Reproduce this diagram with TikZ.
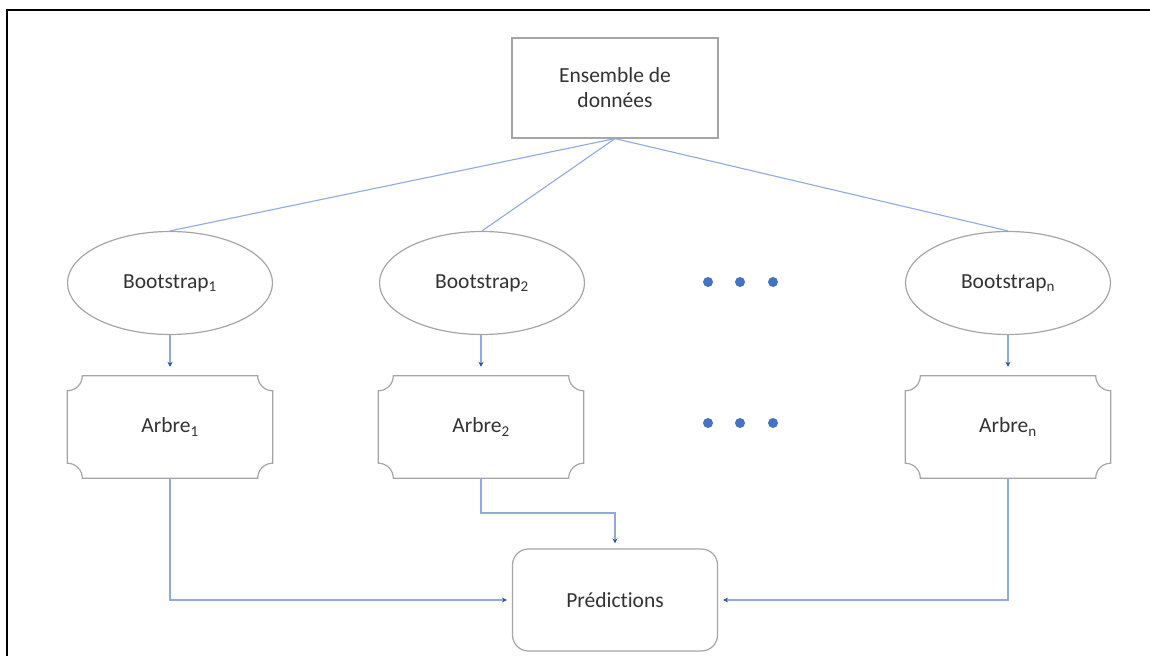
\documentclass[tikz,border=0pt]{standalone}
\usepackage{fontspec}
\setmainfont{Carlito}[Ligatures={NoCommon,NoContextual,NoRequired}]
\usetikzlibrary{shapes.geometric,arrows.meta}
\definecolor{boxgray}{RGB}{165,165,165}
\definecolor{linkblue}{RGB}{143,170,220}
\definecolor{tipblue}{RGB}{47,85,151}
\definecolor{dotblue}{RGB}{68,114,196}
\definecolor{txt}{RGB}{50,50,50}
\tikzset{
  x=1pt, y=1pt,
  every node/.style={font=\fontsize{21.5}{25}\selectfont, text=txt, align=center},
  boxline/.style={draw=boxgray, line width=1.2pt},
  databox/.style={boxline, rectangle, minimum width=206pt, minimum height=100pt},
  bootshape/.style={boxline, ellipse, minimum width=205pt, minimum height=103pt},
  treebox/.style={rectangle, minimum width=205pt, minimum height=102pt},
  predbox/.style={boxline, rectangle, rounded corners=16pt, minimum width=205pt, minimum height=102pt},
  link/.style={draw=linkblue, line width=1.1pt},
  arrowlink/.style={link, -{Stealth[length=5pt,width=5pt,color=tipblue]}},
  dotmark/.style={fill=dotblue, draw=none},
}
% outline of a box with concave (plaque) corners around a named node
\newcommand{\plaqueoutline}[1]{%
  \draw[boxline]
    ([xshift=15pt]#1.north west) -- ([xshift=-15pt]#1.north east)
    arc[start angle=180, end angle=270, radius=15pt]
    -- ([yshift=15pt]#1.south east)
    arc[start angle=90, end angle=180, radius=15pt]
    -- ([xshift=15pt]#1.south west)
    arc[start angle=0, end angle=90, radius=15pt]
    -- ([yshift=-15pt]#1.north west)
    arc[start angle=270, end angle=360, radius=15pt] -- cycle;}
\begin{document}
\begin{tikzpicture}
\useasboundingbox (0,0) rectangle (1150,656);
% frame
\coordinate (fA) at (7,0);
\coordinate (fB) at (7,646);
\coordinate (fC) at (1150,646);
\draw[black, line width=2.2pt] (fA) -- (fB) -- (fC);

% nodes
\node[databox] (data) at (615,568) {Ensemble de\\données};
\node[bootshape] (b1) at (170,373) {Bootstrap\textsubscript{1}};
\node[bootshape] (b2) at (482,373) {Bootstrap\textsubscript{2}};
\node[bootshape] (bn) at (1008,373) {Bootstrap\textsubscript{n}};
\node[treebox] (t1) at (170,229) {Arbre\textsubscript{1}};
\node[treebox] (t2) at (481,229) {Arbre\textsubscript{2}};
\node[treebox] (tn) at (1008,229) {Arbre\textsubscript{n}};
\plaqueoutline{t1}
\plaqueoutline{t2}
\plaqueoutline{tn}
\node[predbox] (pred) at (615,56) {Prédic\kern0pt tions};

% ellipsis dots
\foreach \xx in {708,740,773}{
  \fill[dotmark] (\xx,374) circle (5pt);
  \fill[dotmark] (\xx,233) circle (5pt);
}

% data set to bootstrap samples
\draw[link] (data.south) -- (b1.north);
\draw[link] (data.south) -- (b2.north);
\draw[link] (data.south) -- (bn.north);

% bootstrap samples to trees
\draw[arrowlink, shorten >=9pt] (b1.south) -- (t1.north);
\draw[arrowlink, shorten >=9pt] (b2.south -| t2.north) -- (t2.north);
\draw[arrowlink, shorten >=9pt] (bn.south) -- (tn.north);

% trees to predictions
\coordinate (m2) at (481,143);
\draw[arrowlink, shorten >=5pt] (t1.south) |- (pred.west);
\draw[arrowlink, shorten >=5pt] (t2.south) -- (m2) -| (pred.north);
\draw[arrowlink, shorten >=5pt] (tn.south) |- (pred.east);
\end{tikzpicture}
\end{document}
